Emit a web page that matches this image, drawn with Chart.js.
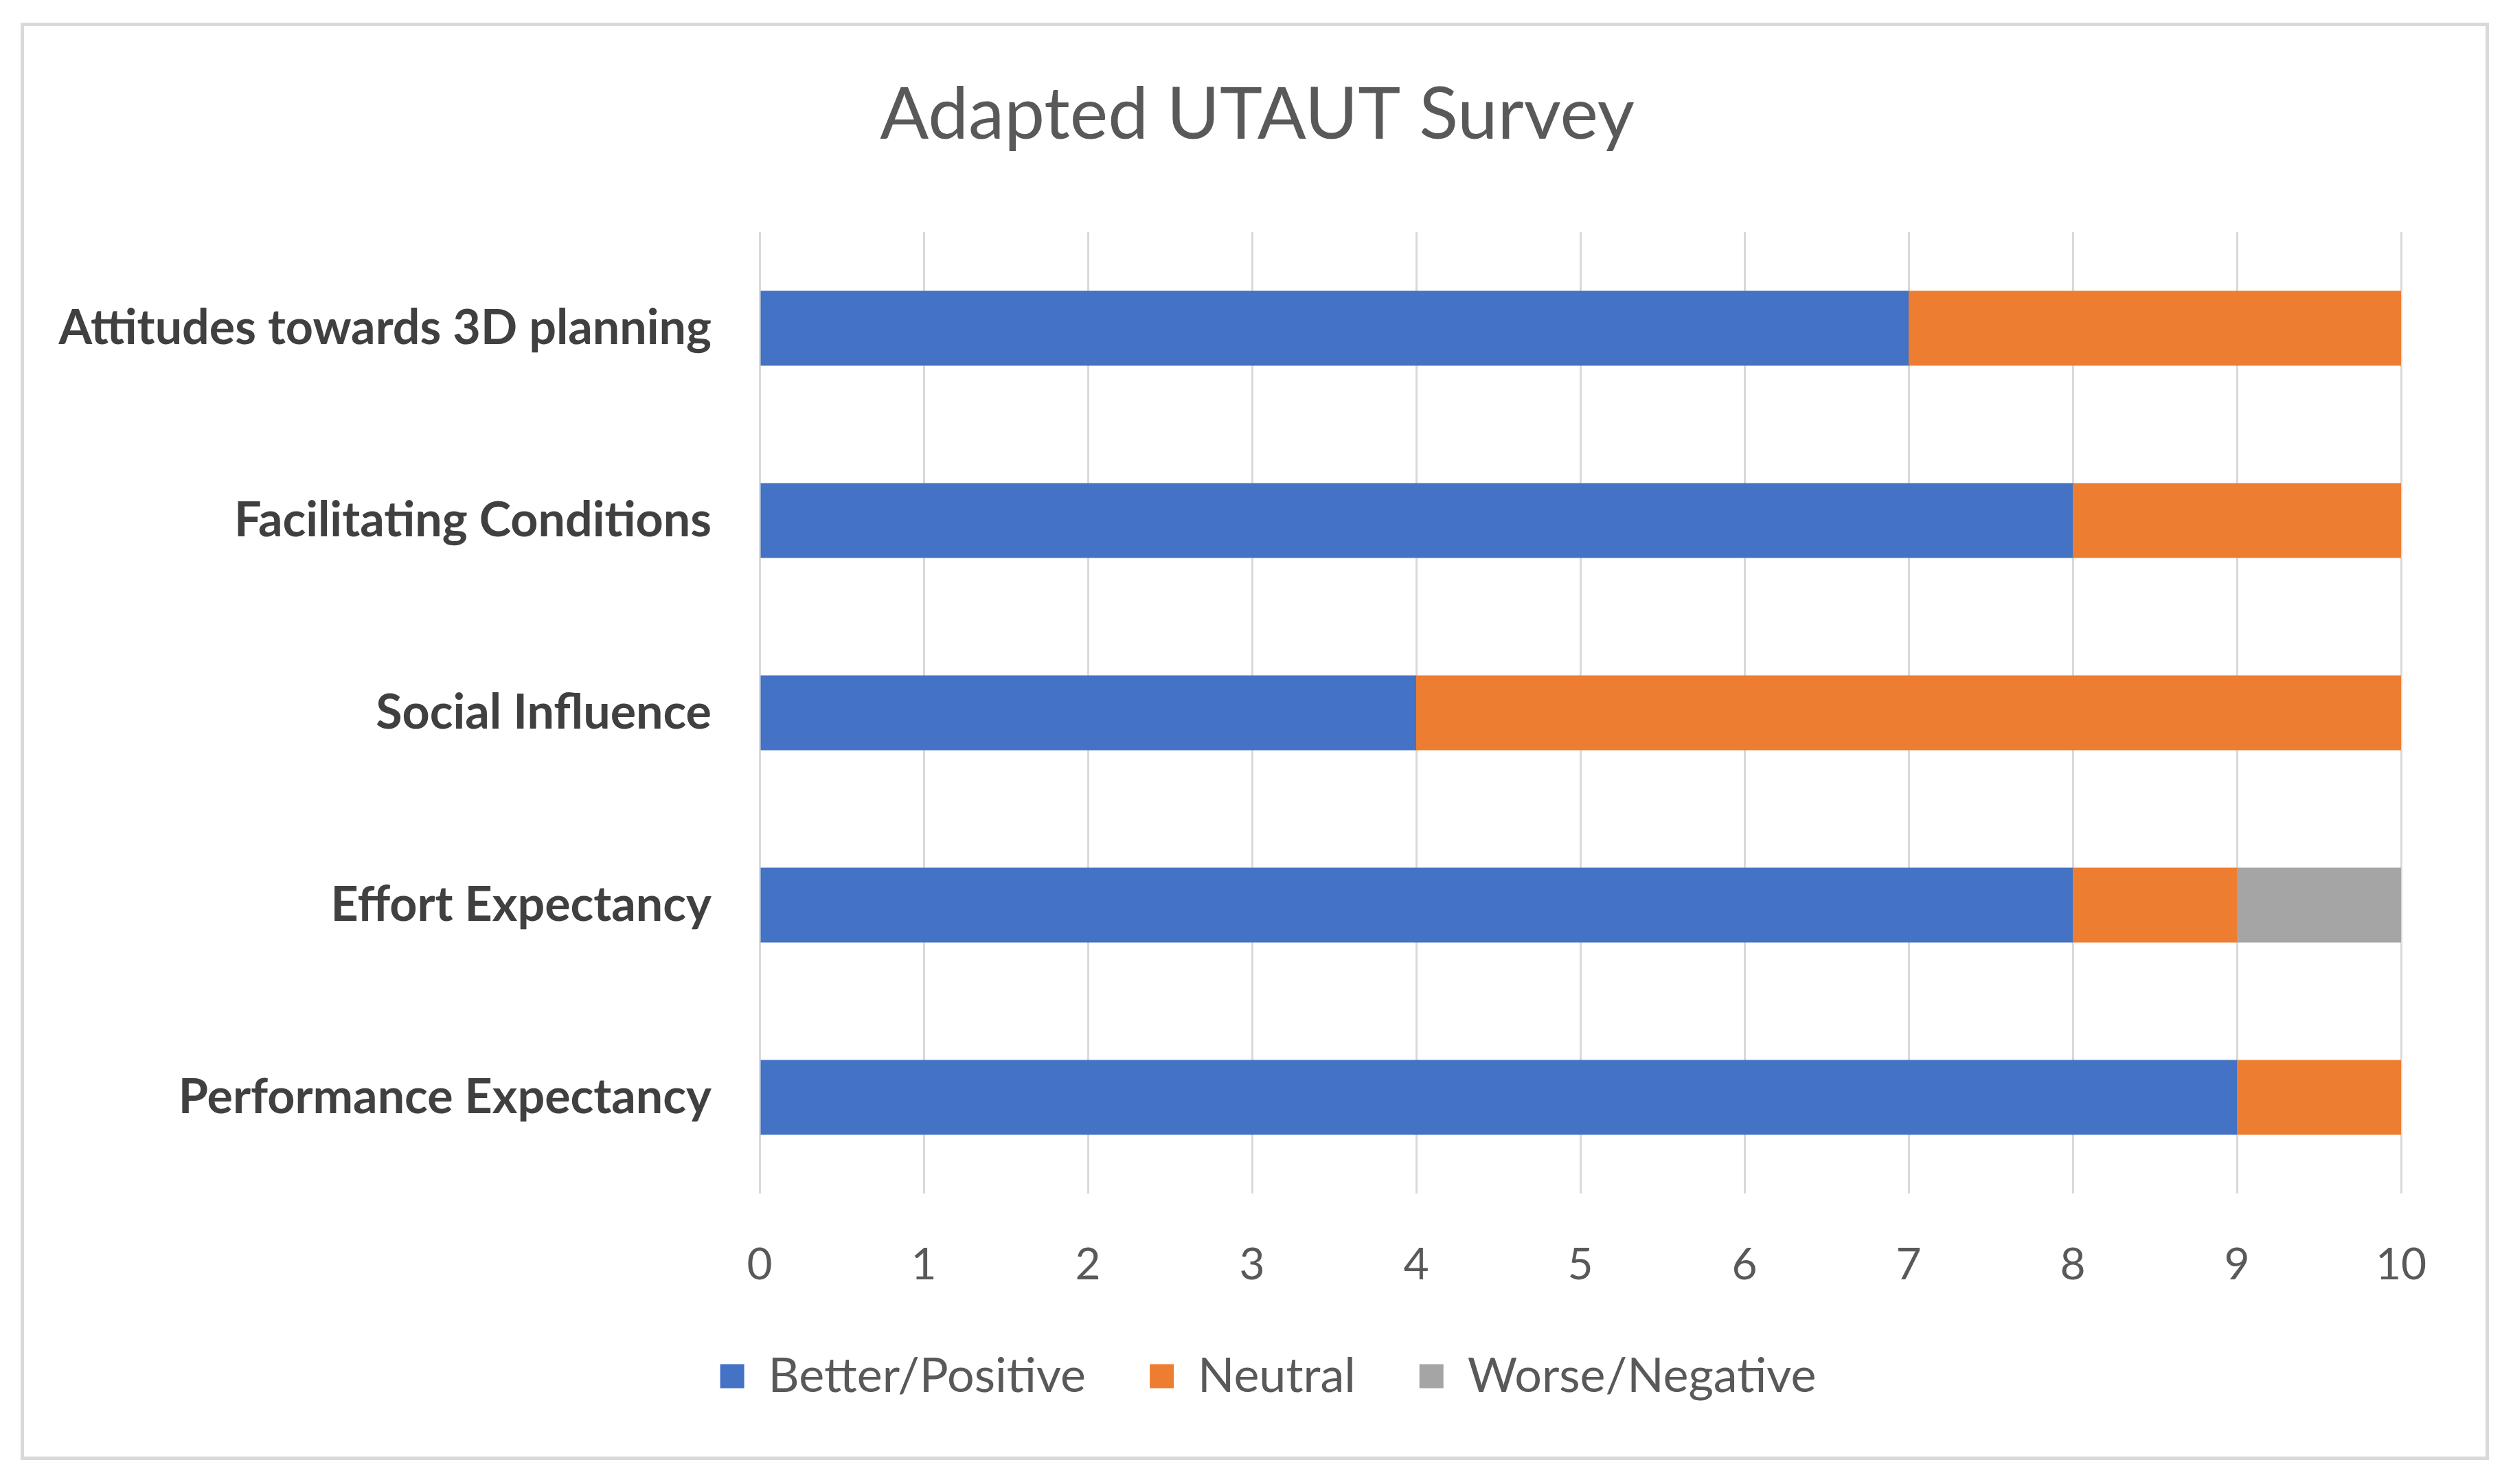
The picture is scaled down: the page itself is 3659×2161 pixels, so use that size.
<!DOCTYPE html>
<html>
<head>
<meta charset="utf-8">
<script src="https://cdn.jsdelivr.net/npm/chart.js@4/dist/chart.umd.min.js"></script>
<style>
    html, body { margin: 0; padding: 0; background: #ffffff; }
    #frame {
        position: absolute;
        left: 30px; top: 33px;
        width: 3594px; height: 2093px;
        border: 5px solid #d9d9d9;
        box-sizing: border-box;
        background: #ffffff;
    }
    #chart { display: block; }
</style>
</head>
<body>
<div id="frame"><canvas id="chart" width="3584" height="2083"></canvas></div>
<script>
// categories top to bottom, as in the picture
const categories = [
    'Attitudes towards 3D planning',
    'Facilitating Conditions',
    'Social Influence',
    'Effort Expectancy',
    'Performance Expectancy'
];
const betterPositive = [7, 8, 4, 8, 9];
const neutral = [3, 2, 6, 1, 1];
const worseNegative = [0, 0, 0, 1, 0];
const xTicks = [0, 1, 2, 3, 4, 5, 6, 7, 8, 9, 10];

const fontFamily = 'Lato, "Open Sans", sans-serif';

// the title and legend sit a bit right of the full width centre in the original
const nudgeBlocks = {
    id: 'nudgeBlocks',
    afterLayout(chart) {
        if (chart.titleBlock) { chart.titleBlock.left += 65; chart.titleBlock.right += 65; }
        if (chart.legend) { chart.legend.left += 81; chart.legend.right += 81; }
    }
};

const ctx = document.getElementById('chart').getContext('2d');
new Chart(ctx, {
    type: 'bar',
    data: {
        labels: categories,
        datasets: [
            { label: 'Better/Positive', data: betterPositive, backgroundColor: '#4472C4' },
            { label: 'Neutral', data: neutral, backgroundColor: '#ED7D31' },
            { label: 'Worse/Negative', data: worseNegative, backgroundColor: '#A5A5A5' }
        ]
    },
    plugins: [nudgeBlocks],
    options: {
        indexAxis: 'y',
        responsive: false,
        animation: false,
        devicePixelRatio: 1,
        layout: { padding: { left: 0, right: 123, top: 0, bottom: 72 } },
        datasets: {
            bar: { categoryPercentage: 1, barPercentage: 0.39, borderWidth: 0 }
        },
        plugins: {
            title: {
                display: true,
                text: 'Adapted UTAUT Survey',
                color: '#595959',
                font: { family: fontFamily, size: 105, weight: 'normal' },
                padding: { top: 67, bottom: 107 }
            },
            legend: {
                position: 'bottom',
                labels: {
                    color: '#595959',
                    font: { family: fontFamily, size: 70 },
                    boxWidth: 35,
                    boxHeight: 35,
                    padding: 93
                }
            },
            tooltip: { enabled: false }
        },
        scales: {
            x: {
                stacked: true,
                min: 0,
                max: 10,
                afterBuildTicks: (scale) => {
                    scale.ticks = xTicks.map(v => ({ value: v }));
                },
                afterFit: (scale) => { scale.height = 138; },
                grid: { color: '#d9d9d9', lineWidth: 3, drawTicks: false },
                border: { display: false },
                ticks: {
                    color: '#595959',
                    font: { family: fontFamily, size: 64 },
                    padding: 66
                }
            },
            y: {
                stacked: true,
                afterFit: (scale) => { scale.width = 1071; },
                grid: { display: false },
                border: { display: false },
                ticks: {
                    color: '#404040',
                    font: { family: fontFamily, size: 70, weight: 'bold' },
                    padding: 62
                }
            }
        }
    }
});
</script>
</body>
</html>
